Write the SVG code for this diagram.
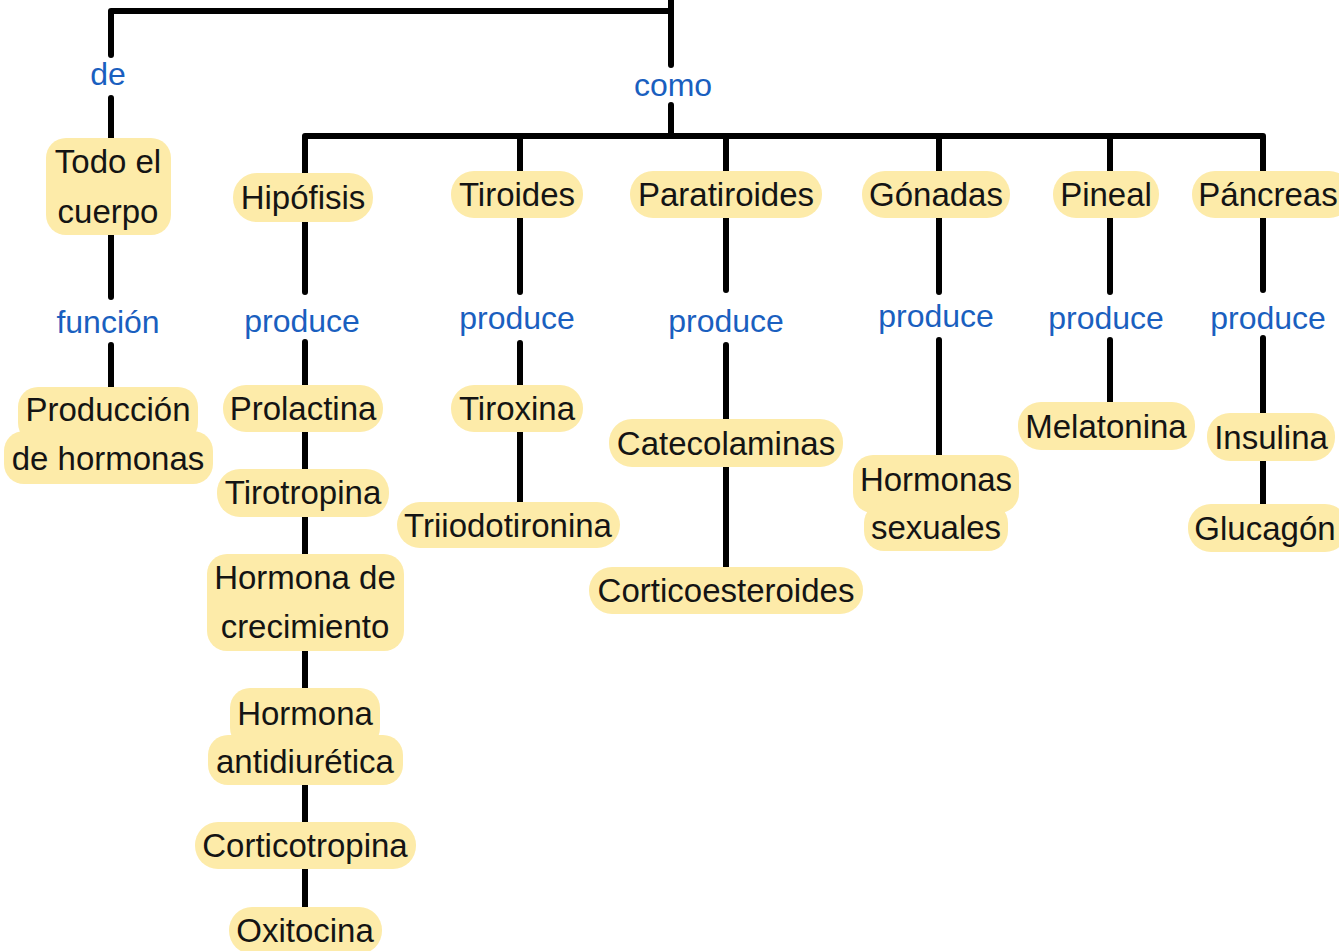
<svg xmlns="http://www.w3.org/2000/svg" width="1339" height="951" viewBox="0 0 1339 951">
<style>
.c{fill:none;stroke:#000;stroke-width:6;stroke-linecap:round;stroke-linejoin:round}
.h{fill:#fdeba9}
.t{font-family:"Liberation Sans",Arial,sans-serif;font-size:33px;fill:#141414;text-anchor:middle}
.l{font-family:"Liberation Sans",Arial,sans-serif;font-size:32px;fill:#1a5fbf;text-anchor:middle}
</style>
<rect width="1339" height="951" fill="#fff"/>
<g id="connectors">
<path class="c" d="M111,55 V11 H671"/>
<path class="c" d="M671,-5 V65 M671,105 V136"/>
<path class="c" d="M305,173 V136 H1263 V173"/>
<path class="c" d="M520,136 V171 M726,136 V171 M939,136 V171 M1110,136 V171"/>
<path class="c" d="M111,98 V138 M111,235 V297 M111,345 V387"/>
<path class="c" d="M305,222 V292 M305,342 V385 M305,432 V469 M305,517 V554 M305,651 V688 M305,785 V822 M305,869 V907"/>
<path class="c" d="M520,218 V292 M520,343 V385 M520,432 V502"/>
<path class="c" d="M726,218 V290 M726,345 V419 M726,467 V567"/>
<path class="c" d="M939,218 V292 M939,340 V455"/>
<path class="c" d="M1110,218 V292 M1110,340 V402"/>
<path class="c" d="M1263,218 V290 M1263,338 V413 M1263,461 V504"/>
</g>
<g id="labels">
<text class="l" x="108" y="85">de</text>
<text class="l" x="673" y="96">como</text>
<text class="l" x="108" y="333">función</text>
<text class="l" x="302" y="332">produce</text>
<text class="l" x="517" y="329">produce</text>
<text class="l" x="726" y="332">produce</text>
<text class="l" x="936" y="327">produce</text>
<text class="l" x="1106" y="329">produce</text>
<text class="l" x="1268" y="329">produce</text>
</g>
<g id="todo-el-cuerpo"><rect class="h" x="46" y="138" width="125" height="97" rx="20"/><text class="t" x="108" y="173">Todo el</text><text class="t" x="108" y="223">cuerpo</text></g>
<g id="produccion"><rect class="h" x="18" y="387" width="180" height="56" rx="20"/><rect class="h" x="4" y="431" width="209" height="53" rx="20"/><text class="t" x="108" y="421">Producción</text><text class="t" x="108" y="470">de hormonas</text></g>
<g id="hipofisis"><rect class="h" x="233" y="173" width="140" height="49" rx="24"/><text class="t" x="303" y="209">Hipófisis</text></g>
<g id="tiroides"><rect class="h" x="451" y="171" width="132" height="47" rx="23"/><text class="t" x="517" y="206">Tiroides</text></g>
<g id="paratiroides"><rect class="h" x="630" y="171" width="192" height="47" rx="23"/><text class="t" x="726" y="206">Paratiroides</text></g>
<g id="gonadas"><rect class="h" x="862" y="171" width="148" height="47" rx="23"/><text class="t" x="936" y="206">Gónadas</text></g>
<g id="pineal"><rect class="h" x="1053" y="171" width="106" height="47" rx="23"/><text class="t" x="1106" y="206">Pineal</text></g>
<g id="pancreas"><rect class="h" x="1192" y="171" width="160" height="47" rx="23"/><text class="t" x="1268" y="206">Páncreas</text></g>
<g id="prolactina"><rect class="h" x="223" y="385" width="160" height="47" rx="23"/><text class="t" x="303" y="420">Prolactina</text></g>
<g id="tirotropina"><rect class="h" x="217" y="469" width="172" height="48" rx="23"/><text class="t" x="303" y="504">Tirotropina</text></g>
<g id="hormona-crecimiento"><rect class="h" x="207" y="554" width="197" height="97" rx="20"/><text class="t" x="305" y="589">Hormona de</text><text class="t" x="305" y="638">crecimiento</text></g>
<g id="hormona-antidiuretica"><rect class="h" x="230" y="688" width="150" height="60" rx="20"/><rect class="h" x="208" y="735" width="195" height="50" rx="20"/><text class="t" x="305" y="725">Hormona</text><text class="t" x="305" y="773">antidiurética</text></g>
<g id="corticotropina"><rect class="h" x="195" y="822" width="221" height="47" rx="23"/><text class="t" x="305" y="857">Corticotropina</text></g>
<g id="oxitocina"><rect class="h" x="229" y="907" width="153" height="47" rx="23"/><text class="t" x="305" y="942">Oxitocina</text></g>
<g id="tiroxina"><rect class="h" x="451" y="385" width="132" height="47" rx="23"/><text class="t" x="517" y="420">Tiroxina</text></g>
<g id="triiodotironina"><rect class="h" x="397" y="502" width="223" height="46" rx="23"/><text class="t" x="508" y="537">Triiodotironina</text></g>
<g id="catecolaminas"><rect class="h" x="609" y="419" width="234" height="48" rx="23"/><text class="t" x="726" y="455">Catecolaminas</text></g>
<g id="corticoesteroides"><rect class="h" x="589" y="567" width="274" height="47" rx="23"/><text class="t" x="726" y="602">Corticoesteroides</text></g>
<g id="hormonas-sexuales"><rect class="h" x="853" y="455" width="166" height="58" rx="20"/><rect class="h" x="864" y="503" width="144" height="48" rx="20"/><text class="t" x="936" y="491">Hormonas</text><text class="t" x="936" y="539">sexuales</text></g>
<g id="melatonina"><rect class="h" x="1018" y="402" width="177" height="48" rx="23"/><text class="t" x="1106" y="438">Melatonina</text></g>
<g id="insulina"><rect class="h" x="1207" y="413" width="128" height="48" rx="23"/><text class="t" x="1271" y="449">Insulina</text></g>
<g id="glucagon"><rect class="h" x="1188" y="504" width="160" height="48" rx="23"/><text class="t" x="1265" y="540">Glucagón</text></g>
</svg>
